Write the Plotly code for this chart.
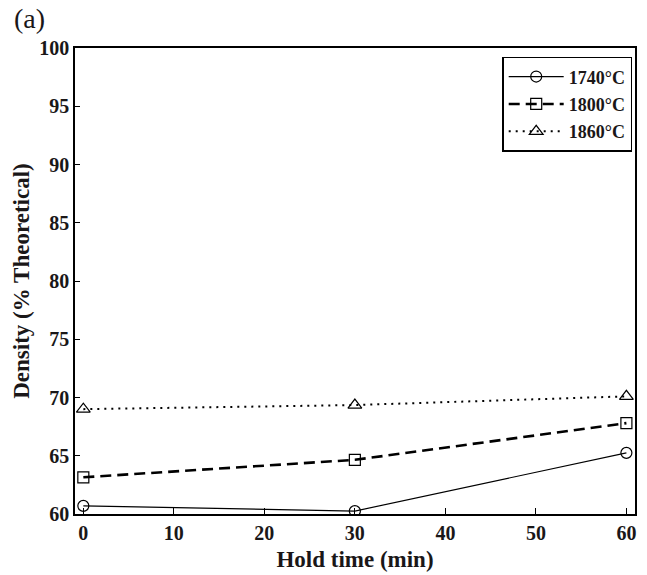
import plotly.graph_objects as go

# Hold time (min) and sintered density (% theoretical) per sintering temperature
hold_time = [0, 30, 60]
density_1740 = [60.7, 60.25, 65.25]
density_1800 = [63.15, 64.65, 67.8]
density_1860 = [69.0, 69.35, 70.1]

series_names = ["1740°C", "1800°C", "1860°C"]
x_ticks = [0, 10, 20, 30, 40, 50, 60]
y_ticks = [60, 65, 70, 75, 80, 85, 90, 95, 100]

FONT = "Liberation Serif, Times New Roman, serif"
INK = "#1a1718"

fig = go.Figure()
fig.add_trace(go.Scatter(
    x=hold_time, y=density_1740, name=series_names[0], mode="lines+markers",
    legendgroup="a",
    line=dict(color="black", width=1.2, dash="solid"),
    marker=dict(symbol="circle-open", size=11, color="black", line=dict(width=1.2)),
))
fig.add_trace(go.Scatter(
    x=hold_time, y=density_1800, name=series_names[1], mode="lines+markers",
    legendgroup="b",
    line=dict(color="black", width=2.6, dash="11px,6px"),
    marker=dict(symbol="square-open", size=11, color="black", line=dict(width=1.2)),
))
fig.add_trace(go.Scatter(
    x=hold_time, y=density_1860, name=series_names[2], mode="lines+markers",
    legendgroup="c",
    line=dict(color="black", width=2, dash="2px,5px"),
    marker=dict(symbol="triangle-up-open", size=12, color="black", line=dict(width=1.2)),
))

axis_common = dict(
    showline=True, linecolor="black", linewidth=1.5, mirror=True,
    ticks="inside", tickcolor="black", tickwidth=1.2,
    showgrid=False, zeroline=False, automargin=False,
    tickfont=dict(family=FONT, size=20, color=INK, weight="bold"),
)

fig.update_layout(
    width=647, height=575,
    margin=dict(l=75, r=12, t=48, b=61),
    paper_bgcolor="white", plot_bgcolor="white",
    font=dict(family=FONT, color=INK),
    showlegend=True,
    legend=dict(
        x=0.995, y=0.981, xanchor="right", yanchor="top",
        bordercolor="black", borderwidth=1.5, bgcolor="white",
        font=dict(family=FONT, size=18, color=INK, weight="bold"),
        tracegroupgap=1, itemwidth=55,
    ),
    xaxis=dict(
        **axis_common, range=[-0.92, 60.95], tickvals=x_ticks,
        ticktext=[f"<b>{v}</b>" for v in x_ticks], ticklen=6,
        title=dict(text="<b>Hold time (min)</b>", font=dict(family=FONT, size=23, color=INK), standoff=8),
    ),
    yaxis=dict(
        **axis_common, range=[60, 100], tickvals=y_ticks,
        ticktext=[f"<b>{v}</b>" for v in y_ticks], ticklen=5,
        title=dict(text="<b>Density (% Theoretical)</b>", font=dict(family=FONT, size=23, color=INK), standoff=3),
    ),
)

fig.add_annotation(
    text="(a)", xref="paper", yref="paper", x=-0.113, y=1.1,
    xanchor="left", yanchor="top", showarrow=False,
    font=dict(family=FONT, size=28, color=INK),
)

fig.write_html("out.html")
